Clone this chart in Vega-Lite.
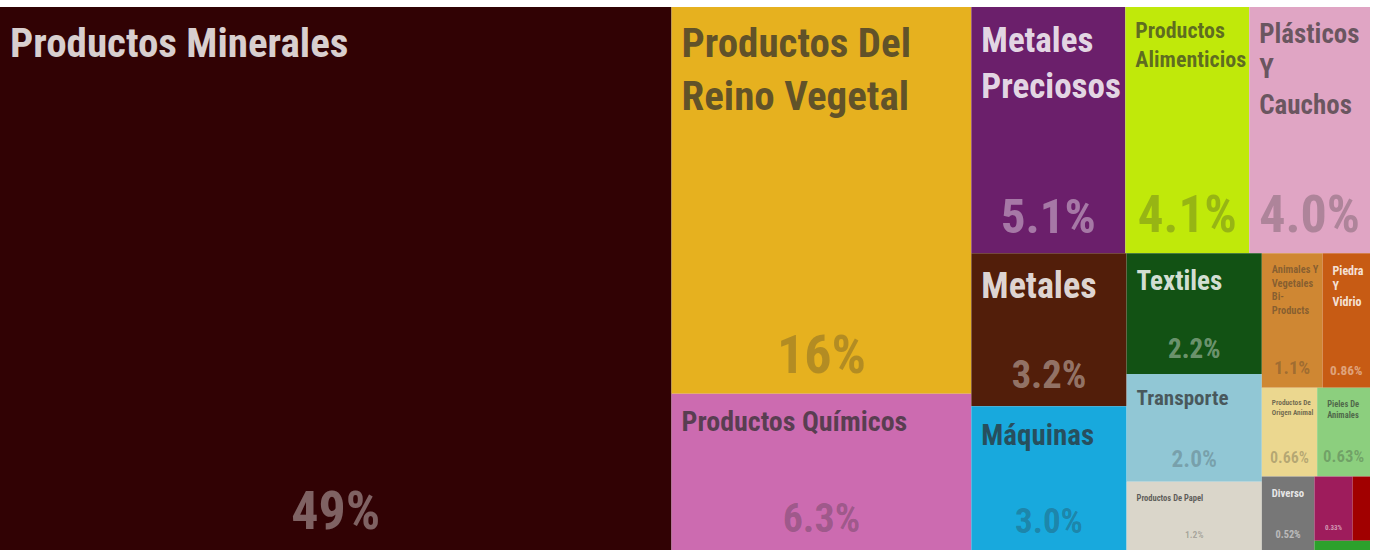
{
  "$schema": "https://vega.github.io/schema/vega-lite/v6.json",
  "width": 1370,
  "height": 543,
  "autosize": {"type": "none"},
  "padding": {"left": 0, "top": 7, "right": 3, "bottom": 0},
  "background": "#ffffff",
  "config": {"view": {"stroke": null}},
  "data": {
    "values": [
      {"name": "Productos Minerales", "label": "Productos Minerales", "value": 49.05, "k1": "1", "k2": "1", "k3": "1", "k4": "1", "k5": "1", "k6": "1", "k7": "1"},
      {"name": "Productos Del Reino Vegetal", "label": "Productos Del\nReino Vegetal", "value": 15.6, "k1": "2", "k2": "1", "k3": "1", "k4": "1", "k5": "1", "k6": "1", "k7": "1"},
      {"name": "Productos Químicos", "label": "Productos Químicos", "value": 6.3, "k1": "2", "k2": "2", "k3": "1", "k4": "1", "k5": "1", "k6": "1", "k7": "1"},
      {"name": "Metales Preciosos", "label": "Metales\nPreciosos", "value": 5.1, "k1": "3", "k2": "1", "k3": "1", "k4": "1", "k5": "1", "k6": "1", "k7": "1"},
      {"name": "Productos Alimenticios", "label": "Productos\nAlimenticios", "value": 4.1, "k1": "3", "k2": "1", "k3": "2", "k4": "1", "k5": "1", "k6": "1", "k7": "1"},
      {"name": "Plásticos Y Cauchos", "label": "Plásticos\nY\nCauchos", "value": 4.0, "k1": "3", "k2": "1", "k3": "3", "k4": "1", "k5": "1", "k6": "1", "k7": "1"},
      {"name": "Metales", "label": "Metales", "value": 3.2, "k1": "3", "k2": "2", "k3": "1", "k4": "1", "k5": "1", "k6": "1", "k7": "1"},
      {"name": "Máquinas", "label": "Máquinas", "value": 3.0, "k1": "3", "k2": "2", "k3": "1", "k4": "2", "k5": "1", "k6": "1", "k7": "1"},
      {"name": "Textiles", "label": "Textiles", "value": 2.2, "k1": "3", "k2": "2", "k3": "2", "k4": "1", "k5": "1", "k6": "1", "k7": "1"},
      {"name": "Transporte", "label": "Transporte", "value": 1.96, "k1": "3", "k2": "2", "k3": "2", "k4": "2", "k5": "1", "k6": "1", "k7": "1"},
      {"name": "Productos De Papel", "label": "Productos De Papel", "value": 1.24, "k1": "3", "k2": "2", "k3": "2", "k4": "3", "k5": "1", "k6": "1", "k7": "1"},
      {"name": "Animales Y Vegetales Bi-Products", "label": "Animales Y\nVegetales\nBi-\nProducts", "value": 1.1, "k1": "3", "k2": "2", "k3": "3", "k4": "1", "k5": "1", "k6": "1", "k7": "1"},
      {"name": "Piedra Y Vidrio", "label": "Piedra\nY\nVidrio", "value": 0.86, "k1": "3", "k2": "2", "k3": "3", "k4": "1", "k5": "2", "k6": "1", "k7": "1"},
      {"name": "Productos De Origen Animal", "label": "Productos De\nOrigen Animal", "value": 0.66, "k1": "3", "k2": "2", "k3": "3", "k4": "2", "k5": "1", "k6": "1", "k7": "1"},
      {"name": "Pieles De Animales", "label": "Pieles De\nAnimales", "value": 0.63, "k1": "3", "k2": "2", "k3": "3", "k4": "2", "k5": "2", "k6": "1", "k7": "1"},
      {"name": "Diverso", "label": "Diverso", "value": 0.52, "k1": "3", "k2": "2", "k3": "3", "k4": "3", "k5": "1", "k6": "1", "k7": "1"},
      {"name": "Calzado Y Sombreros", "label": "Calzado Y Sombreros", "value": 0.33, "k1": "3", "k2": "2", "k3": "3", "k4": "3", "k5": "2", "k6": "1", "k7": "1"},
      {"name": "Instrumentos", "label": "Instrumentos", "value": 0.15, "k1": "3", "k2": "2", "k3": "3", "k4": "3", "k5": "2", "k6": "1", "k7": "2"},
      {"name": "Productos De Madera", "label": "Productos De Madera", "value": 0.07, "k1": "3", "k2": "2", "k3": "3", "k4": "3", "k5": "2", "k6": "2", "k7": "1"}
    ]
  },
  "transform": [
    {"joinaggregate": [{"op": "sum", "field": "value", "as": "s0"}]},
    {"joinaggregate": [{"op": "sum", "field": "value", "as": "s1"}], "groupby": ["k1"]},
    {"window": [{"op": "sum", "field": "value", "as": "c1"}], "sort": [{"field": "k1"}], "frame": [null, 0]},
    {"calculate": "(datum.c1 - datum.s1) / datum.s0", "as": "xa"},
    {"calculate": "datum.c1 / datum.s0", "as": "xb"},
    {"joinaggregate": [{"op": "sum", "field": "value", "as": "s2"}], "groupby": ["k1", "k2"]},
    {"window": [{"op": "sum", "field": "value", "as": "c2"}], "groupby": ["k1"], "sort": [{"field": "k2"}], "frame": [null, 0]},
    {"calculate": "(datum.c2 - datum.s2) / datum.s1", "as": "ya"},
    {"calculate": "datum.c2 / datum.s1", "as": "yb"},
    {"joinaggregate": [{"op": "sum", "field": "value", "as": "s3"}], "groupby": ["k1", "k2", "k3"]},
    {"window": [{"op": "sum", "field": "value", "as": "c3"}], "groupby": ["k1", "k2"], "sort": [{"field": "k3"}], "frame": [null, 0]},
    {"calculate": "datum.xa + (datum.c3 - datum.s3) / datum.s2 * (datum.xb - datum.xa)", "as": "xa3"},
    {"calculate": "datum.xa + datum.c3 / datum.s2 * (datum.xb - datum.xa)", "as": "xb3"},
    {"joinaggregate": [{"op": "sum", "field": "value", "as": "s4"}], "groupby": ["k1", "k2", "k3", "k4"]},
    {"window": [{"op": "sum", "field": "value", "as": "c4"}], "groupby": ["k1", "k2", "k3"], "sort": [{"field": "k4"}], "frame": [null, 0]},
    {"calculate": "datum.ya + (datum.c4 - datum.s4) / datum.s3 * (datum.yb - datum.ya)", "as": "ya4"},
    {"calculate": "datum.ya + datum.c4 / datum.s3 * (datum.yb - datum.ya)", "as": "yb4"},
    {"joinaggregate": [{"op": "sum", "field": "value", "as": "s5"}], "groupby": ["k1", "k2", "k3", "k4", "k5"]},
    {"window": [{"op": "sum", "field": "value", "as": "c5"}], "groupby": ["k1", "k2", "k3", "k4"], "sort": [{"field": "k5"}], "frame": [null, 0]},
    {"calculate": "datum.xa3 + (datum.c5 - datum.s5) / datum.s4 * (datum.xb3 - datum.xa3)", "as": "xa5"},
    {"calculate": "datum.xa3 + datum.c5 / datum.s4 * (datum.xb3 - datum.xa3)", "as": "xb5"},
    {"joinaggregate": [{"op": "sum", "field": "value", "as": "s6"}], "groupby": ["k1", "k2", "k3", "k4", "k5", "k6"]},
    {"window": [{"op": "sum", "field": "value", "as": "c6"}], "groupby": ["k1", "k2", "k3", "k4", "k5"], "sort": [{"field": "k6"}], "frame": [null, 0]},
    {"calculate": "datum.ya4 + (datum.c6 - datum.s6) / datum.s5 * (datum.yb4 - datum.ya4)", "as": "ya6"},
    {"calculate": "datum.ya4 + datum.c6 / datum.s5 * (datum.yb4 - datum.ya4)", "as": "yb6"},
    {"joinaggregate": [{"op": "sum", "field": "value", "as": "s7"}], "groupby": ["k1", "k2", "k3", "k4", "k5", "k6", "k7"]},
    {"window": [{"op": "sum", "field": "value", "as": "c7"}], "groupby": ["k1", "k2", "k3", "k4", "k5", "k6"], "sort": [{"field": "k7"}], "frame": [null, 0]},
    {"calculate": "datum.xa5 + (datum.c7 - datum.s7) / datum.s6 * (datum.xb5 - datum.xa5)", "as": "x0"},
    {"calculate": "datum.xa5 + datum.c7 / datum.s6 * (datum.xb5 - datum.xa5)", "as": "x1"},
    {"calculate": "(datum.x0 + datum.x1) / 2", "as": "xc"},
    {"calculate": "format(datum.value, '.2r') + '%'", "as": "pct"},
    {"calculate": "indexof(['Productos Minerales','Productos Del Reino Vegetal','Productos Químicos','Metales Preciosos','Productos Alimenticios','Plásticos Y Cauchos','Metales','Máquinas','Textiles','Transporte','Productos De Papel','Animales Y Vegetales Bi-Products','Piedra Y Vidrio','Productos De Origen Animal','Pieles De Animales','Diverso','Calzado Y Sombreros','Instrumentos','Productos De Madera'], datum.name)", "as": "idx"},
    {"calculate": "[41,41,28,35,22,27,36,29,27,21,8.5,10.4,12,7.3,8.5,10.7,0,0,0][datum.idx]", "as": "tfs"},
    {"calculate": "[54,54,40,49,51,52,38.5,35,27,23.5,9.6,18.7,13.3,16,16.8,10.3,7,0,0][datum.idx]", "as": "pfs"}
  ],
  "encoding": {
    "x": {"field": "x0", "type": "quantitative", "scale": {"domain": [0, 1], "nice": false, "zero": false}, "axis": null},
    "y": {"field": "ya6", "type": "quantitative", "scale": {"domain": [0, 1], "nice": false, "zero": false, "reverse": true}, "axis": null}
  },
  "layer": [
    {
      "mark": {"type": "rect"},
      "encoding": {
        "x2": {"field": "x1"},
        "y2": {"field": "yb6"},
        "color": {
          "field": "name",
          "type": "nominal",
          "legend": null,
          "scale": {
            "domain": ["Productos Minerales","Productos Del Reino Vegetal","Productos Químicos","Metales Preciosos","Productos Alimenticios","Plásticos Y Cauchos","Metales","Máquinas","Textiles","Transporte","Productos De Papel","Animales Y Vegetales Bi-Products","Piedra Y Vidrio","Productos De Origen Animal","Pieles De Animales","Diverso","Calzado Y Sombreros","Instrumentos","Productos De Madera"],
            "range": ["#310204","#e6b11f","#cc6bb0","#6b1f6b","#c0e90a","#e0a5c4","#521e0a","#18a9dd","#125214","#91c7d5","#dad6ca","#cf8733","#c75b14","#ebd78f","#8ccf7e","#777777","#9e1c5c","#a10000","#2ca12c"]
          }
        }
      }
    },
    {
      "transform": [{"filter": "datum.tfs > 0"}],
      "mark": {"type": "text", "align": "left", "baseline": "top", "dx": 10, "dy": {"expr": "10 + datum.tfs * 0.2"}, "lineBreak": "\n", "lineHeight": {"expr": "datum.tfs * 1.3"}, "fontWeight": "bold", "font": "Liberation Sans Narrow, Roboto Condensed, DejaVu Sans Condensed, sans-serif"},
      "encoding": {
        "text": {"field": "label"},
        "size": {"field": "tfs", "type": "quantitative", "scale": null},
        "color": {
          "field": "name",
          "type": "nominal",
          "legend": null,
          "scale": {
            "domain": ["Productos Minerales","Productos Del Reino Vegetal","Productos Químicos","Metales Preciosos","Productos Alimenticios","Plásticos Y Cauchos","Metales","Máquinas","Textiles","Transporte","Productos De Papel","Animales Y Vegetales Bi-Products","Piedra Y Vidrio","Productos De Origen Animal","Pieles De Animales","Diverso","Calzado Y Sombreros","Instrumentos","Productos De Madera"],
            "range": ["rgba(255,255,255,0.82)","rgba(45,45,45,0.72)","rgba(45,45,45,0.72)","rgba(255,255,255,0.84)","rgba(45,45,45,0.66)","rgba(45,45,45,0.66)","rgba(255,255,255,0.84)","rgba(45,45,45,0.72)","rgba(255,255,255,0.84)","rgba(45,45,45,0.72)","rgba(45,45,45,0.72)","rgba(45,45,45,0.45)","rgba(255,255,255,0.84)","rgba(45,45,45,0.65)","rgba(45,45,45,0.65)","rgba(255,255,255,0.84)","rgba(255,255,255,0.84)","rgba(255,255,255,0.84)","rgba(255,255,255,0.84)"]
          }
        }
      }
    },
    {
      "transform": [{"filter": "datum.pfs > 0"}],
      "mark": {"type": "text", "align": "center", "baseline": "bottom", "dy": -10, "fontWeight": "bold", "font": "Liberation Sans Narrow, Roboto Condensed, DejaVu Sans Condensed, sans-serif"},
      "encoding": {
        "x": {"field": "xc", "type": "quantitative"},
        "y": {"field": "yb6", "type": "quantitative"},
        "text": {"field": "pct"},
        "size": {"field": "pfs", "type": "quantitative", "scale": null},
        "color": {
          "field": "name",
          "type": "nominal",
          "legend": null,
          "scale": {
            "domain": ["Productos Minerales","Productos Del Reino Vegetal","Productos Químicos","Metales Preciosos","Productos Alimenticios","Plásticos Y Cauchos","Metales","Máquinas","Textiles","Transporte","Productos De Papel","Animales Y Vegetales Bi-Products","Piedra Y Vidrio","Productos De Origen Animal","Pieles De Animales","Diverso","Calzado Y Sombreros","Instrumentos","Productos De Madera"],
            "range": ["rgba(255,255,255,0.38)","rgba(45,45,45,0.28)","rgba(45,45,45,0.3)","rgba(255,255,255,0.4)","rgba(45,45,45,0.28)","rgba(45,45,45,0.28)","rgba(255,255,255,0.4)","rgba(45,45,45,0.3)","rgba(255,255,255,0.4)","rgba(45,45,45,0.25)","rgba(45,45,45,0.3)","rgba(45,45,45,0.3)","rgba(255,255,255,0.45)","rgba(45,45,45,0.28)","rgba(45,45,45,0.28)","rgba(255,255,255,0.5)","rgba(255,255,255,0.55)","rgba(255,255,255,0.4)","rgba(255,255,255,0.4)"]
          }
        }
      }
    }
  ],
  "resolve": {"scale": {"color": "independent"}}
}
